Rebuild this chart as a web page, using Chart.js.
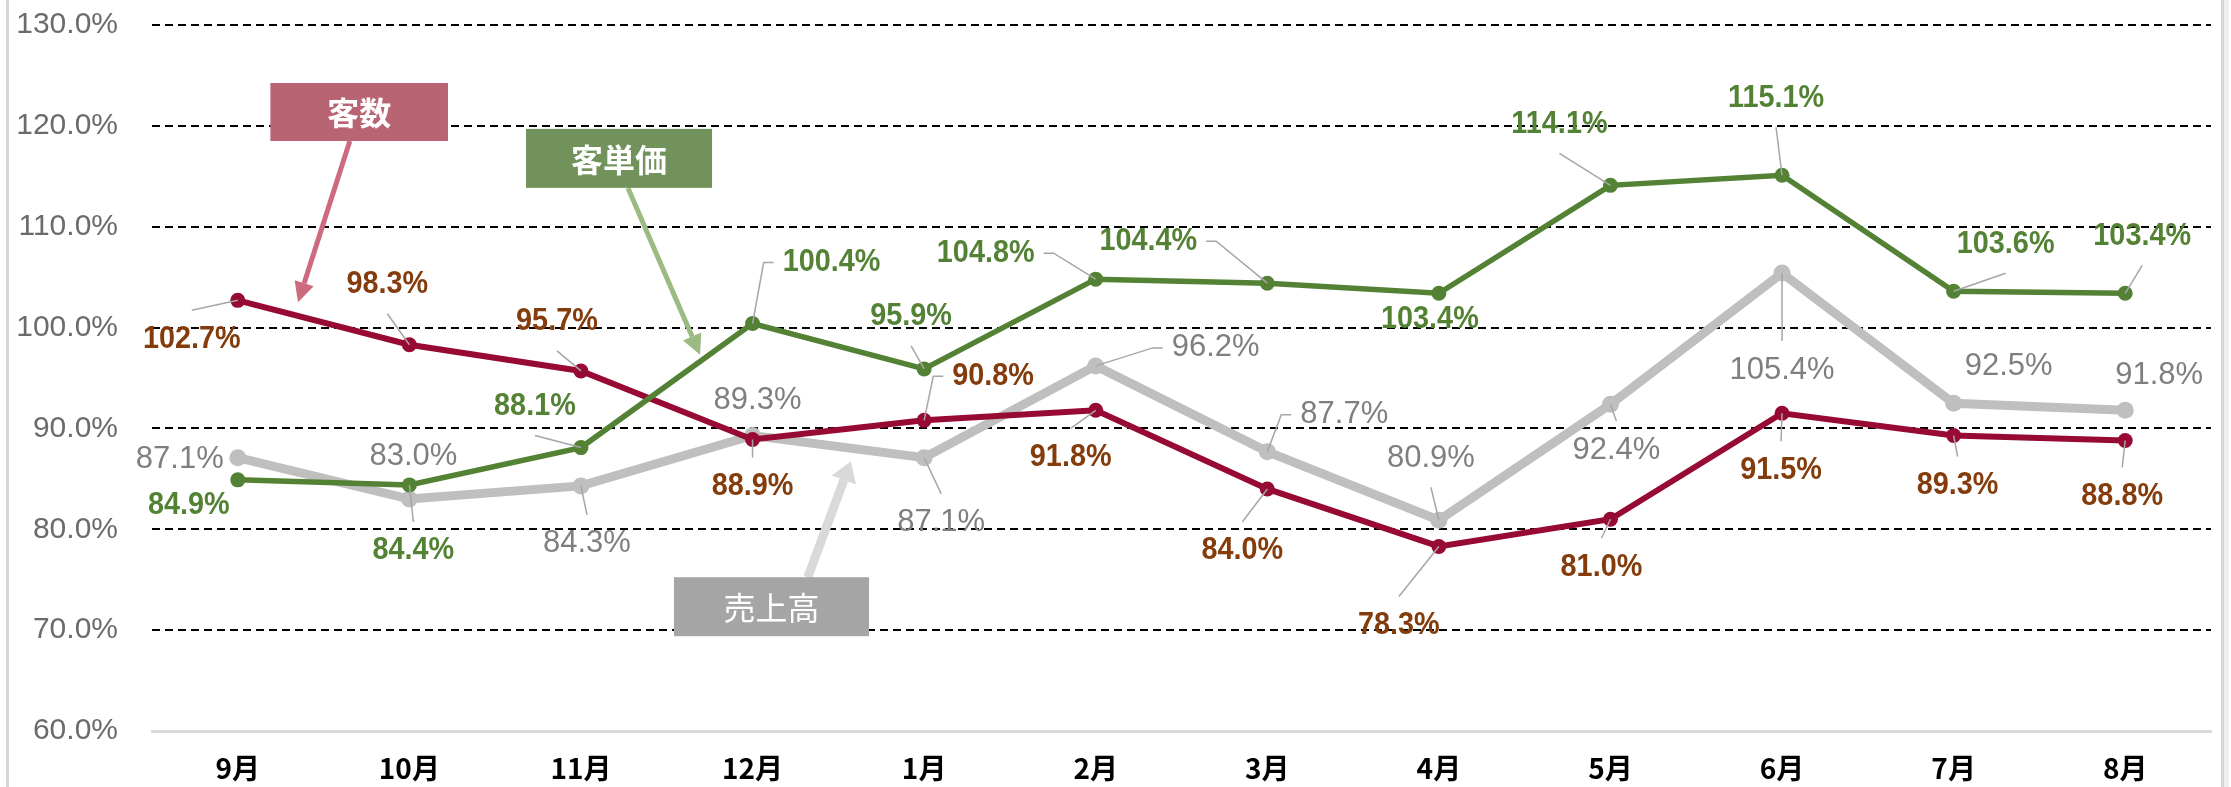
<!DOCTYPE html>
<html lang="ja">
<head>
<meta charset="utf-8">
<title>売上高・客数・客単価 前年比</title>
<script src="https://cdn.jsdelivr.net/npm/chart.js@4.4.1/dist/chart.umd.min.js"></script>
<style>
  html, body { margin: 0; padding: 0; background: #fff; }
  #wrap { width: 2231px; height: 787px; position: relative; }
</style>
</head>
<body>
<div id="wrap"><canvas id="trend"></canvas></div>
<script>
// 月
const months = ['9月', '10月', '11月', '12月', '1月', '2月', '3月', '4月', '5月', '6月', '7月', '8月'];
// 前年比 (%)
const salesRatio = [87.1, 83.0, 84.3, 89.3, 87.1, 96.2, 87.7, 80.9, 92.4, 105.4, 92.5, 91.8];
const customerRatio = [102.7, 98.3, 95.7, 88.9, 90.8, 91.8, 84.0, 78.3, 81.0, 91.5, 89.3, 88.8];
const unitPriceRatio = [84.9, 84.4, 88.1, 100.4, 95.9, 104.8, 104.4, 103.4, 114.1, 115.1, 103.6, 103.4];
// 縦軸の目盛
const yTicks = [60, 70, 80, 90, 100, 110, 120, 130];

// データラベルの置き場所 (点からのずれ px, 引き出し線 1/0)
const salesLabelPos = [[-58, 2, 0], [4, -43, 0], [6, 58, 1], [5, -35, 0], [17, 65, 1], [120, -18, 1],
  [77, -37, 1], [-8, -62, 1], [6, 46, 1], [0, 97, 1], [55, -37, 0], [34, -35, 0]];
const customerLabelPos = [[-46, 39, 1], [-22, -60, 1], [-24, -49, 1], [0, 47, 1], [69, -44, 1], [-25, 47, 1],
  [-25, 62, 1], [-40, 79, 1], [-9, 48, 1], [-1, 57, 1], [4, 50, 1], [-3, 56, 1]];
const unitPriceLabelPos = [[-49, 26, 0], [4, 66, 1], [-46, -41, 1], [79, -61, 1], [-13, -52, 1], [-110, -26, 1],
  [-119, -42, 1], [-9, 26, 0], [-51, -61, 1], [-6, -77, 1], [52, -47, 1], [17, -57, 1]];

// 吹き出し (x は月の位置, y は % の値で指定)
const callouts = [
  { text: '客数', box: [0.19, 124.25, 1.225, 118.5], fill: '#B96473', from: [0.653, 118.5], to: [0.351, 102.5], arrow: '#CD6A7D', lw: 5, head: [20, 10], weight: 'bold' },
  { text: '客単価', box: [1.68, 119.7, 2.764, 113.85], fill: '#71925B', from: [2.274, 113.85], to: [2.694, 97.3], arrow: '#9BBB83', lw: 5, head: [20, 10], weight: 'bold' },
  { text: '売上高', box: [2.542, 75.25, 3.679, 69.4], fill: '#A5A5A5', from: [3.322, 75.25], to: [3.573, 86.75], arrow: '#D9D9D9', lw: 9, head: [20, 13], weight: 'normal' }
];

// 背景と左右の枠線
const framePlugin = {
  id: 'frame',
  beforeDraw(chart) {
    const ctx = chart.ctx;
    ctx.save();
    ctx.fillStyle = '#fff';
    ctx.fillRect(0, 0, chart.width, chart.height);
    ctx.fillStyle = '#D6D6D6';
    ctx.fillRect(6, 0, 3, chart.height);
    ctx.fillRect(2221, 0, 3, chart.height);
    ctx.fillStyle = '#EFEFEF';
    ctx.fillRect(2224, 0, 5, chart.height);
    ctx.restore();
  }
};

// データラベルと引き出し線
const pointLabelPlugin = {
  id: 'pointLabels',
  afterDatasetsDraw(chart) {
    const ctx = chart.ctx;
    chart.data.datasets.forEach((ds, di) => {
      const meta = chart.getDatasetMeta(di);
      meta.data.forEach((pt, i) => {
        const [dx, dy, lead] = ds.labelPos[i];
        const text = ds.data[i].toFixed(1) + '%';
        ctx.save();
        ctx.font = ds.labelFont;
        const tw = ctx.measureText(text).width * ds.labelScaleX;
        const cx = pt.x + dx;
        const cy = pt.y + dy;
        if (lead) {
          ctx.strokeStyle = '#A6A6A6';
          ctx.lineWidth = 1.5;
          ctx.beginPath();
          if (Math.abs(dx) > tw / 2 + 6) {
            const s = dx > 0 ? -1 : 1;
            const ax = cx + s * (tw / 2 + 9);
            ctx.moveTo(ax, cy);
            ctx.lineTo(ax + s * 10, cy);
          } else {
            ctx.moveTo(cx, cy + (dy > 0 ? -29 : 29));
          }
          ctx.lineTo(pt.x, pt.y);
          ctx.stroke();
        }
        ctx.translate(cx, cy);
        ctx.scale(ds.labelScaleX, 1);
        ctx.fillStyle = ds.labelColor;
        ctx.textAlign = 'center';
        ctx.textBaseline = 'middle';
        ctx.fillText(text, 0, 0);
        ctx.restore();
      });
    });
  }
};

function drawArrow(ctx, x1, y1, x2, y2, color, lw, headLen, headHalf) {
  const ang = Math.atan2(y2 - y1, x2 - x1);
  const bx = x2 - headLen * Math.cos(ang);
  const by = y2 - headLen * Math.sin(ang);
  ctx.strokeStyle = color;
  ctx.lineWidth = lw;
  ctx.beginPath();
  ctx.moveTo(x1, y1);
  ctx.lineTo(bx, by);
  ctx.stroke();
  ctx.fillStyle = color;
  ctx.beginPath();
  ctx.moveTo(x2, y2);
  ctx.lineTo(bx + headHalf * Math.sin(ang), by - headHalf * Math.cos(ang));
  ctx.lineTo(bx - headHalf * Math.sin(ang), by + headHalf * Math.cos(ang));
  ctx.closePath();
  ctx.fill();
}

// 吹き出しの描画
const calloutPlugin = {
  id: 'callouts',
  afterDraw(chart) {
    const ctx = chart.ctx;
    const xs = chart.scales.x;
    const ys = chart.scales.y;
    ctx.save();
    callouts.forEach(c => {
      drawArrow(ctx, xs.getPixelForValue(c.from[0]), ys.getPixelForValue(c.from[1]),
        xs.getPixelForValue(c.to[0]), ys.getPixelForValue(c.to[1]), c.arrow, c.lw, c.head[0], c.head[1]);
    });
    callouts.forEach(c => {
      const x0 = xs.getPixelForValue(c.box[0]);
      const y0 = ys.getPixelForValue(c.box[1]);
      const x1 = xs.getPixelForValue(c.box[2]);
      const y1 = ys.getPixelForValue(c.box[3]);
      ctx.fillStyle = c.fill;
      ctx.fillRect(x0, y0, x1 - x0, y1 - y0);
      ctx.fillStyle = '#fff';
      ctx.font = c.weight + " 32px 'Noto Sans CJK JP'";
      ctx.textAlign = 'center';
      ctx.textBaseline = 'middle';
      ctx.fillText(c.text, (x0 + x1) / 2, (y0 + y1) / 2 + 1);
    });
    ctx.restore();
  }
};

const ctx = document.getElementById('trend').getContext('2d');
new Chart(ctx, {
  type: 'line',
  data: {
    labels: months,
    datasets: [
      {
        label: '客単価',
        data: unitPriceRatio,
        borderColor: '#548235',
        backgroundColor: '#548235',
        borderWidth: 5.5,
        pointRadius: 7.5,
        pointHoverRadius: 7.5,
        pointBorderWidth: 0,
        labelPos: unitPriceLabelPos,
        labelColor: '#548235',
        labelFont: "bold 31px 'Liberation Sans', Arial",
        labelScaleX: 0.93
      },
      {
        label: '客数',
        data: customerRatio,
        borderColor: '#970A33',
        backgroundColor: '#970A33',
        borderWidth: 6,
        pointRadius: 7.5,
        pointHoverRadius: 7.5,
        pointBorderWidth: 0,
        labelPos: customerLabelPos,
        labelColor: '#843C0C',
        labelFont: "bold 31px 'Liberation Sans', Arial",
        labelScaleX: 0.93
      },
      {
        label: '売上高',
        data: salesRatio,
        borderColor: '#BFBFBF',
        backgroundColor: '#BFBFBF',
        borderWidth: 9,
        pointRadius: 8.5,
        pointHoverRadius: 8.5,
        pointBorderWidth: 0,
        labelPos: salesLabelPos,
        labelColor: '#7F7F7F',
        labelFont: "31px 'Liberation Sans', Arial",
        labelScaleX: 1
      }
    ]
  },
  options: {
    responsive: true,
    maintainAspectRatio: false,
    animation: false,
    layout: { padding: { top: 25, right: 20, bottom: 0, left: 0 } },
    plugins: {
      legend: { display: false },
      tooltip: { enabled: false }
    },
    scales: {
      x: {
        offset: true,
        grid: { display: false },
        border: { display: true, color: '#D9D9D9', width: 3 },
        ticks: {
          color: '#000',
          padding: 13,
          font: { family: "'Noto Sans CJK JP'", size: 28, weight: 'bold' }
        },
        afterFit(scale) { scale.height = 56; }
      },
      y: {
        min: 60,
        max: 130,
        afterBuildTicks(scale) { scale.ticks = yTicks.map(v => ({ value: v })); },
        grid: {
          color: c => (c.tick && c.tick.value === 60) ? 'rgba(0,0,0,0)' : '#000',
          lineWidth: 2,
          drawTicks: false
        },
        border: { display: false, dash: [8, 5] },
        ticks: {
          padding: 34,
          color: '#6B6B6B',
          font: { family: "'Liberation Sans', Arial", size: 30 },
          callback: v => v.toFixed(1) + '%'
        },
        afterFit(scale) {
          scale.width = 152;
          scale.paddingTop = 0;
          scale.paddingBottom = 0;
        }
      }
    }
  },
  plugins: [framePlugin, pointLabelPlugin, calloutPlugin]
});
</script>
</body>
</html>
